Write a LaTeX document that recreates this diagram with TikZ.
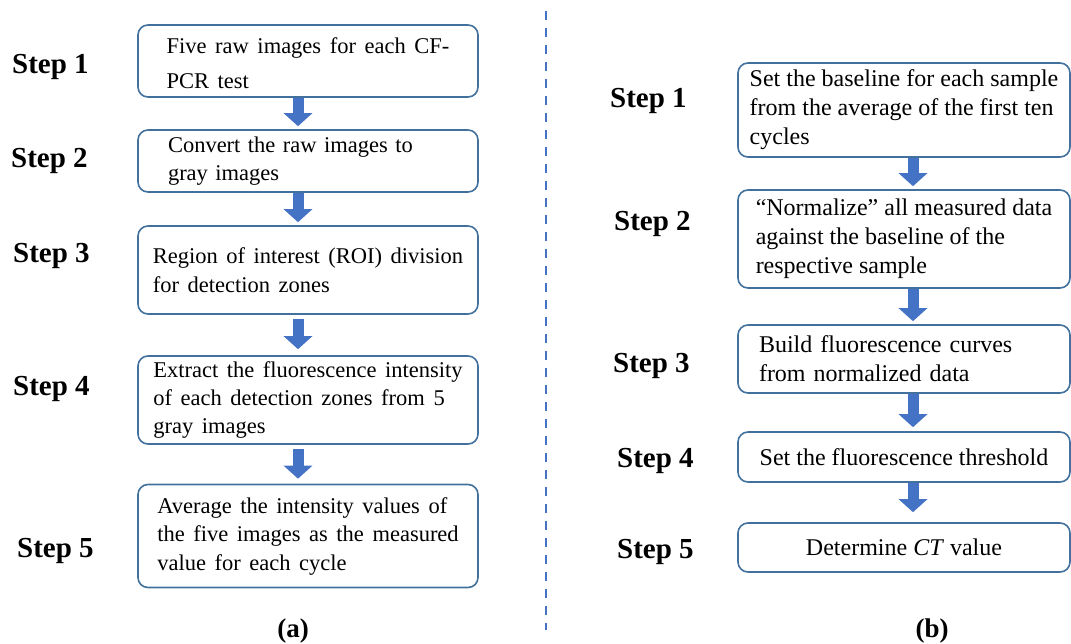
\documentclass[tikz,border=0pt]{standalone}
\usepackage{fontspec}
\setmainfont{Liberation Serif}
\usetikzlibrary{arrows.meta}
\definecolor{boxline}{RGB}{65,113,156}
\definecolor{flowblue}{RGB}{68,114,196}
\newcommand\leftbody{\fontsize{22.5}{28.5}\selectfont\spaceskip=0.38em plus 0.1em minus 0.05em\relax}
\newcommand\rightbody{\fontsize{24}{29}\selectfont}
\tikzset{
  box/.style={draw=boxline, line width=1.6pt, rounded corners=10pt, align=left, inner sep=0pt},
  lbox/.style={box, minimum width=340pt, font=\leftbody},
  rbox/.style={box, minimum width=332pt, font=\rightbody},
  steplabel/.style={anchor=base west, inner sep=0pt, font=\fontsize{29}{34}\selectfont\bfseries},
  panel/.style={anchor=base, inner sep=0pt, font=\fontsize{27}{30}\selectfont\bfseries},
  flow/.style={draw=flowblue, line width=11pt, -{Triangle[width=28pt,length=13pt]}},
  divider/.style={draw=flowblue, line width=2pt, dash pattern=on 9pt off 8pt}
}
\begin{document}
\begin{tikzpicture}[x=1pt, y=-1pt]
\useasboundingbox (0,0) rectangle (1071,643);

% ---- left flow: image processing ----
\node[lbox, minimum height=72pt]  (L1) at (308,61)  {\rule{0pt}{20pt}Five raw images for each CF-\\[7pt]PCR test};
\node[lbox, minimum height=62pt, text width=280pt] (L2) at (308,161) {Convert the raw images to\\gray images};
\node[lbox, minimum height=88pt]  (L3) at (308,270) {Region of interest (ROI) division\\for detection zones};
\node[lbox, minimum height=88pt]  (L4) at (308,400) {Extract the fluorescence intensity\\of each detection zones from 5\\gray images};
\node[lbox, minimum height=103pt] (L5) at (308,536) {Average the intensity values of\\the five images as the measured\\value for each cycle};

\node[steplabel] (LS1) at (12,73)  {Step 1};
\node[steplabel] (LS2) at (11,167) {Step 2};
\node[steplabel] (LS3) at (13,262) {Step 3};
\node[steplabel] (LS4) at (13,395) {Step 4};
\node[steplabel] (LS5) at (17,557) {Step 5};

\draw[flow] ([xshift=-10pt]L1.south) -- ([xshift=-10pt,yshift=3pt]L2.north);
\draw[flow] ([xshift=-10pt]L2.south) -- ([xshift=-10pt,yshift=3pt]L3.north);
\draw[flow] ([xshift=-10pt,yshift=-4pt]L3.south) -- ([xshift=-10pt,yshift=6pt]L4.north);
\draw[flow] ([xshift=-10pt,yshift=-4pt]L4.south) -- ([xshift=-10pt,yshift=5pt]L5.north);

\node[panel] (PA) at (293,637) {(a)};

% ---- divider ----
\coordinate (D1) at (546,11);
\coordinate (D2) at (546,630);
\draw[divider] (D1) -- (D2);

% ---- right flow: curve analysis ----
\node[rbox, minimum height=94pt] (R1) at (904,110) {Set the baseline for each sample\\from the average of the first ten\\cycles};
\node[rbox, minimum height=98pt] (R2) at (904,239) {“Normalize” all measured data\\against the baseline of the\\respective sample};
\node[rbox, minimum height=68pt, text width=290pt] (R3) at (904,359) {Build fluorescence curves\\from normalized data};
\node[rbox, minimum height=50pt] (R4) at (904,457) {Set the fluorescence threshold};
\node[rbox, minimum height=49pt, align=center] (R5) at (904,547.5) {Determine \textit{CT} value};

\node[steplabel] (RS1) at (610,107) {Step 1};
\node[steplabel] (RS2) at (614,230) {Step 2};
\node[steplabel] (RS3) at (613,372) {Step 3};
\node[steplabel] (RS4) at (617,467) {Step 4};
\node[steplabel] (RS5) at (617,558) {Step 5};

\draw[flow] ([xshift=9pt]R1.south) -- ([xshift=9pt,yshift=3pt]R2.north);
\draw[flow] ([xshift=9pt]R2.south) -- ([xshift=9pt,yshift=3pt]R3.north);
\draw[flow] ([xshift=9pt]R3.south) -- ([xshift=9pt,yshift=4pt]R4.north);
\draw[flow] ([xshift=9pt]R4.south) -- ([xshift=9pt,yshift=10pt]R5.north);

\node[panel] (PB) at (932,637) {(b)};
\end{tikzpicture}
\end{document}
